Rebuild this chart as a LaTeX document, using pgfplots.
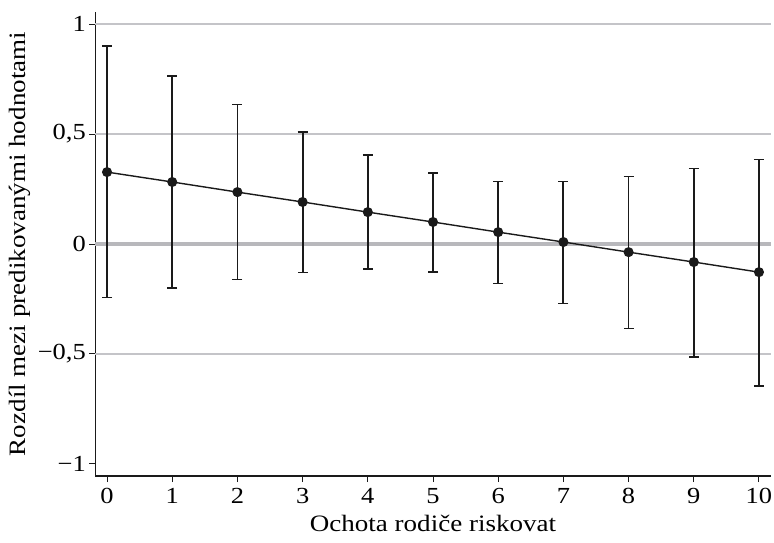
\documentclass[border=0pt]{standalone}
\usepackage{fontspec}
\setmainfont{Liberation Serif}[FakeStretch=1.15]
\usepackage{pgfplots}
\usepackage{pgfplotstable}
\pgfplotsset{compat=1.18}
\definecolor{gridc}{RGB}{196,196,200}
\definecolor{zeroc}{RGB}{184,184,188}
\definecolor{ink}{RGB}{26,26,26}
\pgfplotstableread{
x y hi lo
0 0.327 0.900 -0.244
1 0.282 0.765 -0.200
2 0.236 0.634 -0.161
3 0.191 0.510 -0.129
4 0.145 0.404 -0.114
5 0.100 0.323 -0.126
6 0.054 0.285 -0.179
7 0.009 0.285 -0.270
8 -0.037 0.307 -0.385
9 -0.082 0.343 -0.513
10 -0.128 0.384 -0.645
}\datatab
\begin{document}
\begin{tikzpicture}
\useasboundingbox (-95.3pt,-66pt) rectangle (678.7pt,476pt);
\begin{axis}[
  scale only axis,
  width=675.4pt, height=464pt,
  xmin=-0.18, xmax=10.18, ymin=-1.055, ymax=1.055,
  axis x line*=bottom, axis y line*=left,
  axis line style={-, ink, line width=1.2pt},
  tick align=outside, major tick length=6pt,
  tick style={ink, line width=1pt},
  xtick={0,1,2,3,4,5,6,7,8,9,10},
  ytick={-1,-0.5,0,0.5,1},
  yticklabels={{−1},{−0,5},{0},{0,5},{1}},
  xticklabels={0,1,2,3,4,5,6,7,8,9,10},
  ticklabel style={font=\fontsize{23}{27}\selectfont},
  label style={font=\fontsize{23.5}{27}\selectfont},
  xticklabel style={yshift=-3pt},
  extra y ticks={-0.5,0.5,1},
  extra y tick labels={},
  extra y tick style={grid=major, major tick length=0pt},
  grid style={gridc, line width=1.8pt},
  xlabel={Ochota rodiče riskovat},
  ylabel={Rozdíl mezi predikovanými hodnotami},
  xlabel style={at={(axis description cs:0.5,0)}, anchor=center, yshift=-47pt},
  ylabel style={at={(axis description cs:0,0.5)}, anchor=center, yshift=75pt},
  clip=false,
]
\draw[zeroc, line width=3.6pt] (axis cs:-0.18,0) -- (axis cs:10.18,0);
\addplot[ink, line width=1.4pt, mark=*, mark size=4.3pt, mark options={fill=ink, draw=ink},
  error bars/.cd, y dir=both, y explicit,
  error bar style={ink, line width=1.8pt},
  error mark options={ink, line width=1.6pt, rotate=90, mark size=5pt}]
  table[x=x, y=y, y error plus expr=\thisrow{hi}-\thisrow{y}, y error minus expr=\thisrow{y}-\thisrow{lo}] {\datatab};
\end{axis}
\end{tikzpicture}
\end{document}
